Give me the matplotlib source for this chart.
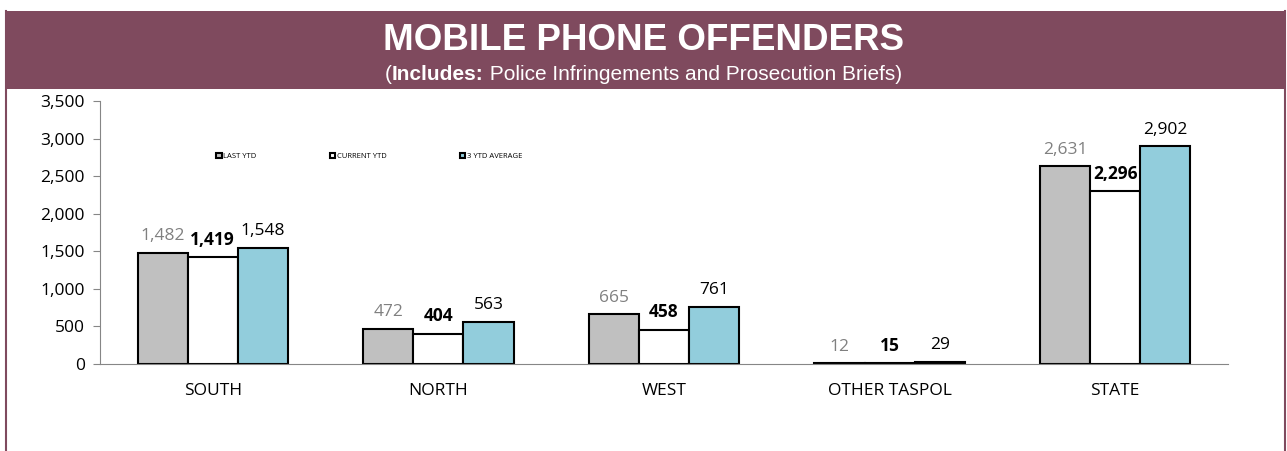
import numpy as np
import matplotlib.pyplot as plt
from matplotlib.patches import Rectangle
from matplotlib.lines import Line2D

regions = ['SOUTH', 'NORTH', 'WEST', 'OTHER TASPOL', 'STATE']
last_ytd = [1482, 472, 665, 12, 2631]
current_ytd = [1419, 404, 458, 15, 2296]
avg_3ytd = [1548, 563, 761, 29, 2902]
series_names = ['LAST YTD', 'CURRENT YTD', '3 YTD AVERAGE']

W, H = 1287, 451
maroon = '#7F4A5E'
plt.rcParams['font.family'] = ['Open Sans', 'DejaVu Sans']

fig = plt.figure(figsize=(W / 100, H / 100), dpi=100)

# header band and frame
fig.add_artist(Rectangle((5 / W, 1 - 89 / H), 1280 / W, 78 / H, transform=fig.transFigure,
                         facecolor=maroon, edgecolor='none'))
for xl in (5.5, 1284.5):
    fig.add_artist(Line2D([xl / W, xl / W], [0, 1 - 11 / H], transform=fig.transFigure,
                          color=maroon, lw=1.5))
fig.text(0.5, 1 - 40 / H, 'MOBILE PHONE OFFENDERS', ha='center', va='center',
         color='white', fontsize=26.5, fontweight='bold', family='Liberation Sans')

# subtitle: bold lead-in followed by regular text, centred as one line
parts = [('(', 'normal'), ('Includes:', 'bold'),
         (' Police Infringements and Prosecution Briefs)', 'normal')]
renderer = fig.canvas.get_renderer()
texts = []
for s, wgt in parts:
    t = fig.text(0, 1 - 74 / H, s, ha='left', va='center', color='white', fontsize=15,
                 fontweight=wgt, family='Liberation Sans')
    texts.append(t)
widths = [t.get_window_extent(renderer).width for t in texts]
x0 = (W - sum(widths)) / 2
for t, w in zip(texts, widths):
    t.set_x(x0 / W)
    x0 += w

ax = fig.add_axes([100 / W, 1 - 364 / H, 1128 / W, 263 / H])
x = np.arange(len(regions))
bw = 0.222
bars1 = ax.bar(x - bw, last_ytd, bw, color='#C0C0C0', edgecolor='black', lw=1.5)
bars2 = ax.bar(x, current_ytd, bw, color='white', edgecolor='black', lw=1.5)
bars3 = ax.bar(x + bw, avg_3ytd, bw, color='#92CDDC', edgecolor='black', lw=1.5)

for bars, vals, wgt, col in ((bars1, last_ytd, 'normal', '#808080'),
                             (bars2, current_ytd, 'bold', 'black'),
                             (bars3, avg_3ytd, 'normal', 'black')):
    for b, v in zip(bars, vals):
        ax.annotate(f'{v:,}', (b.get_x() + b.get_width() / 2, v), xytext=(0, 6),
                    textcoords='offset points', ha='center', va='bottom', fontsize=12.5,
                    fontweight=wgt, color=col)

ax.set_xlim(-0.5, len(regions) - 0.5)
ax.set_ylim(0, 3500)
ax.set_yticks(np.arange(0, 3501, 500))
ax.yaxis.set_major_formatter(plt.FuncFormatter(lambda v, p: f'{int(v):,}'))
ax.set_xticks(x)
ax.set_xticklabels(regions)
ax.tick_params(axis='x', length=0, labelsize=12.5, pad=14)
ax.tick_params(axis='y', length=5, color='#868686', labelsize=12.5, pad=6)
for s in ('top', 'right'):
    ax.spines[s].set_visible(False)
for s in ('left', 'bottom'):
    ax.spines[s].set_color('#868686')

# tiny legend
leg = ax.legend([bars1[0], bars2[0], bars3[0]], series_names, ncol=3, loc='upper left',
                bbox_to_anchor=(0.097, 0.83), frameon=False, fontsize=5.5, handlelength=0.7,
                handleheight=0.7, handletextpad=0.2, columnspacing=9.6)

fig.savefig('out.png', dpi=100)
